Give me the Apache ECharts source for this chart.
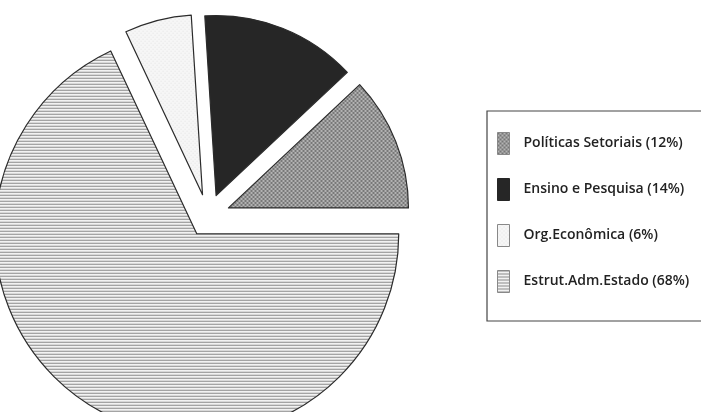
<!DOCTYPE html>
<html>
<head>
<meta charset="utf-8">
<script src="https://cdn.jsdelivr.net/npm/echarts@6/dist/echarts.min.js"></script>
<style>
  html, body { margin: 0; padding: 0; background: #fff; }
  #main { width: 701px; height: 412px; }
</style>
</head>
<body>
<div id="main"></div>
<script>
// slices, in drawing order (clockwise from 3 o'clock)
const categories = ['Estrut.Adm.Estado', 'Org.Econômica', 'Ensino e Pesquisa', 'Políticas Setoriais'];
const values = [68, 6, 14, 12];
// legend order as printed
const legendOrder = ['Políticas Setoriais', 'Ensino e Pesquisa', 'Org.Econômica', 'Estrut.Adm.Estado'];

// little canvas tiles used as fill patterns
function tile(w, h, draw) {
  const c = document.createElement('canvas');
  c.width = w; c.height = h;
  draw(c.getContext('2d'));
  return { image: c, repeat: 'repeat' };
}
const hLines = tile(4, 3, function (g) {
  g.fillStyle = '#f2f2f2'; g.fillRect(0, 0, 4, 3);
  g.fillStyle = '#8a8a8a'; g.fillRect(0, 0, 4, 1);
});
const checker = tile(4, 4, function (g) {
  g.fillStyle = '#b4b4b4'; g.fillRect(0, 0, 4, 4);
  g.fillStyle = '#777'; g.fillRect(0, 0, 2, 2); g.fillRect(2, 2, 2, 2);
});
const light = tile(4, 4, function (g) {
  g.fillStyle = '#f6f6f6'; g.fillRect(0, 0, 4, 4);
  g.fillStyle = '#e4e4e4'; g.fillRect(0, 0, 1, 1); g.fillRect(2, 2, 1, 1);
});

const fills = [hLines, light, '#262626', checker];

const chart = echarts.init(document.getElementById('main'), null, { renderer: 'canvas' });

// the big slice is drawn a bit larger than the three small ones;
// every slice is pulled out from the centre
function pieSeries(radius, offset, show) {
  return {
    type: 'pie',
    center: [208, 216],
    radius: [0, radius],
    startAngle: 0,
    clockwise: true,
    silent: true,
    selectedMode: 'multiple',
    selectedOffset: offset,
    label: { show: false },
    labelLine: { show: false },
    emphasis: { disabled: true },
    data: categories.map(function (name, i) {
      const st = show(i)
        ? { color: fills[i], borderColor: '#2b2b2b', borderWidth: 1.2 }
        : { color: 'rgba(0,0,0,0)', borderWidth: 0 };
      return {
        name: name,
        value: values[i],
        selected: show(i),
        itemStyle: st,
        select: { itemStyle: st }
      };
    })
  };
}

const option = {
  animation: false,
  backgroundColor: '#fff',
  legend: {
    orient: 'vertical',
    left: 487,
    top: 111,
    padding: [21, 120, 28, 10],
    borderColor: '#444',
    borderWidth: 1.2,
    itemWidth: 12,
    itemHeight: 22,
    itemGap: 23,
    icon: 'rect',
    selectedMode: false,
    data: legendOrder.map(function (name) {
      const i = categories.indexOf(name);
      return {
        name: name,
        itemStyle: {
          color: fills[i],
          borderColor: i === 2 ? '#262626' : '#888',
          borderWidth: 1
        }
      };
    }),
    formatter: function (name) {
      return name + ' (' + values[categories.indexOf(name)] + '%)';
    },
    textStyle: {
      fontFamily: 'Open Sans',
      fontWeight: 600,
      fontSize: 14,
      color: '#222',
      padding: [0, 0, 0, 9]
    }
  },
  series: [
    pieSeries(202, 21, function (i) { return i === 0; }),
    pieSeries(180, 22, function (i) { return i !== 0; })
  ]
};

chart.setOption(option);
</script>
</body>
</html>
